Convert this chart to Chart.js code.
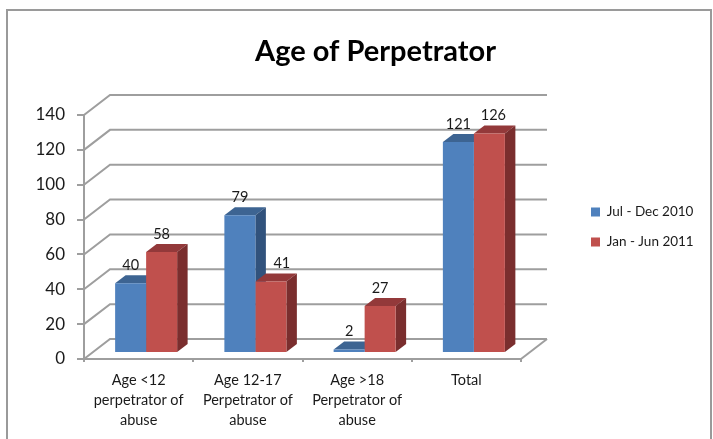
<!DOCTYPE html>
<html>
<head>
<meta charset="utf-8">
<style>html,body{margin:0;padding:0;background:#fff}canvas{display:block}</style>
<script src="https://cdn.jsdelivr.net/npm/chart.js@4/dist/chart.umd.min.js"></script>
</head>
<body>
<canvas id="c" width="713" height="439"></canvas>
<script>
const categories = [
  ['Age <12', 'perpetrator of', 'abuse'],
  ['Age 12-17', 'Perpetrator of', 'abuse'],
  ['Age >18', 'Perpetrator of', 'abuse'],
  'Total'
];
const julDec2010 = [40, 79, 2, 121];
const janJun2011 = [58, 41, 27, 126];
const seriesNames = ['Jul - Dec 2010', 'Jan - Jun 2011'];

const FONT = 'Lato, Carlito, sans-serif';
const GRID = '#9e9e9e';
const shades = [
  {top: '#3d6492', side: '#31527c'},
  {top: '#93393a', side: '#7a2e2e'}
];
const wall = {dx: 26, dy: -20};
const barShift = {dx: 7.5, dy: -6};
const barDepth = {dx: 10.5, dy: -8};
const labelNudge = {'1,1': 11, '1,3': 4};

function poly(ctx, pts, fill) {
  ctx.beginPath();
  pts.forEach((p, i) => i ? ctx.lineTo(p[0], p[1]) : ctx.moveTo(p[0], p[1]));
  ctx.closePath();
  ctx.fillStyle = fill;
  ctx.fill();
}

const excel3d = {
  id: 'excel3d',
  beforeLayout(chart) {
    const l = chart.legend;
    if (l && !l._patched) {
      l._patched = true;
      const fit = l.fit;
      l.fit = function () { fit.call(this); this._w = this.width; this.width = 192; };
    }
  },
  afterLayout(chart) {
    const l = chart.legend;
    const h = l.height;
    l.left = 591 - l.options.labels.padding;
    l.right = l.left + l._w;
    l.width = l._w;
    l.top = 227 - h / 2;
    l.bottom = l.top + h;
    chart.titleBlock.left += 19;
    chart.titleBlock.right += 19;
  },
  beforeDraw(chart) {
    const ctx = chart.ctx;
    ctx.save();
    ctx.strokeStyle = '#9a9a9a';
    ctx.lineWidth = 2;
    ctx.beginPath();
    ctx.moveTo(7, 439); ctx.lineTo(7, 10); ctx.lineTo(711, 10); ctx.lineTo(711, 439);
    ctx.stroke();
    ctx.restore();
  },
  beforeDatasetsDraw(chart) {
    const ctx = chart.ctx, y = chart.scales.y, x = chart.scales.x;
    ctx.save();
    ctx.strokeStyle = GRID;
    ctx.lineWidth = 2;
    y.ticks.forEach(t => {
      const p = y.getPixelForValue(t.value);
      ctx.beginPath();
      ctx.moveTo(x.left, p);
      ctx.lineTo(x.left + wall.dx, p + wall.dy);
      ctx.lineTo(x.right + wall.dx, p + wall.dy);
      ctx.stroke();
    });
    const b = y.getPixelForValue(0);
    ctx.beginPath();
    ctx.moveTo(x.right, b);
    ctx.lineTo(x.right + wall.dx, b + wall.dy);
    ctx.stroke();
    ctx.translate(barShift.dx, barShift.dy);
    chart.data.datasets.forEach((ds, i) => {
      const c = shades[i];
      chart.getDatasetMeta(i).data.forEach(el => {
        const l = el.x - el.width / 2, r = el.x + el.width / 2;
        const dx = barDepth.dx, dy = barDepth.dy;
        poly(ctx, [[l, el.y], [l + dx, el.y + dy], [r + dx, el.y + dy], [r, el.y]], c.top);
        poly(ctx, [[r, el.y], [r + dx, el.y + dy], [r + dx, el.base + dy], [r, el.base]], c.side);
      });
    });
    ctx.restore();
  },
  beforeDatasetDraw(chart) {
    chart.ctx.save();
    chart.ctx.translate(barShift.dx, barShift.dy);
  },
  afterDatasetDraw(chart) {
    chart.ctx.restore();
  },
  afterDatasetsDraw(chart) {
    const ctx = chart.ctx;
    ctx.save();
    ctx.font = '14.5px ' + FONT;
    ctx.fillStyle = '#1a1a1a';
    ctx.textAlign = 'center';
    ctx.textBaseline = 'middle';
    chart.data.datasets.forEach((ds, i) => {
      chart.getDatasetMeta(i).data.forEach((el, j) => {
        const nudge = labelNudge[i + ',' + j] || 0;
        ctx.fillText(String(ds.data[j]), el.x + barShift.dx + nudge, el.y + barShift.dy - 18);
      });
    });
    ctx.restore();
  }
};

new Chart(document.getElementById('c'), {
  type: 'bar',
  data: {
    labels: categories,
    datasets: [
      {label: seriesNames[0], data: julDec2010, backgroundColor: '#4f81bd', borderWidth: 0, clip: false},
      {label: seriesNames[1], data: janJun2011, backgroundColor: '#c0504d', borderWidth: 0, clip: false}
    ]
  },
  options: {
    responsive: false,
    animation: false,
    events: [],
    devicePixelRatio: 1,
    layout: {padding: {top: 37.5, left: 0, right: 0, bottom: 0}},
    datasets: {bar: {categoryPercentage: 0.5675, barPercentage: 1}},
    plugins: {
      tooltip: {enabled: false},
      title: {
        display: true,
        text: 'Age of Perpetrator',
        color: '#000',
        font: {family: FONT, size: 29, weight: 'bold', lineHeight: 1},
        padding: {top: 0, bottom: 48.5}
      },
      legend: {
        display: true,
        position: 'right',
        labels: {
          boxWidth: 9, boxHeight: 9, padding: 16.5,
          color: '#1a1a1a',
          font: {family: FONT, size: 13.5}
        }
      }
    },
    scales: {
      x: {
        afterFit(s) { s.height = 80; },
        border: {color: GRID, width: 2},
        grid: {color: GRID, lineWidth: 2, drawOnChartArea: false, tickLength: 3},
        ticks: {
          color: '#1a1a1a', padding: 8, maxRotation: 0, autoSkip: false,
          font: {family: FONT, size: 14.5, lineHeight: 1.38}
        }
      },
      y: {
        min: 0, max: 140,
        afterFit(s) { s.width = 84; },
        border: {color: GRID, width: 2},
        grid: {color: GRID, lineWidth: 2, drawOnChartArea: false, tickLength: 7},
        ticks: {
          stepSize: 20, color: '#1a1a1a', padding: 12,
          font: {family: FONT, size: 17}
        }
      }
    }
  },
  plugins: [excel3d]
});
</script>
</body>
</html>
